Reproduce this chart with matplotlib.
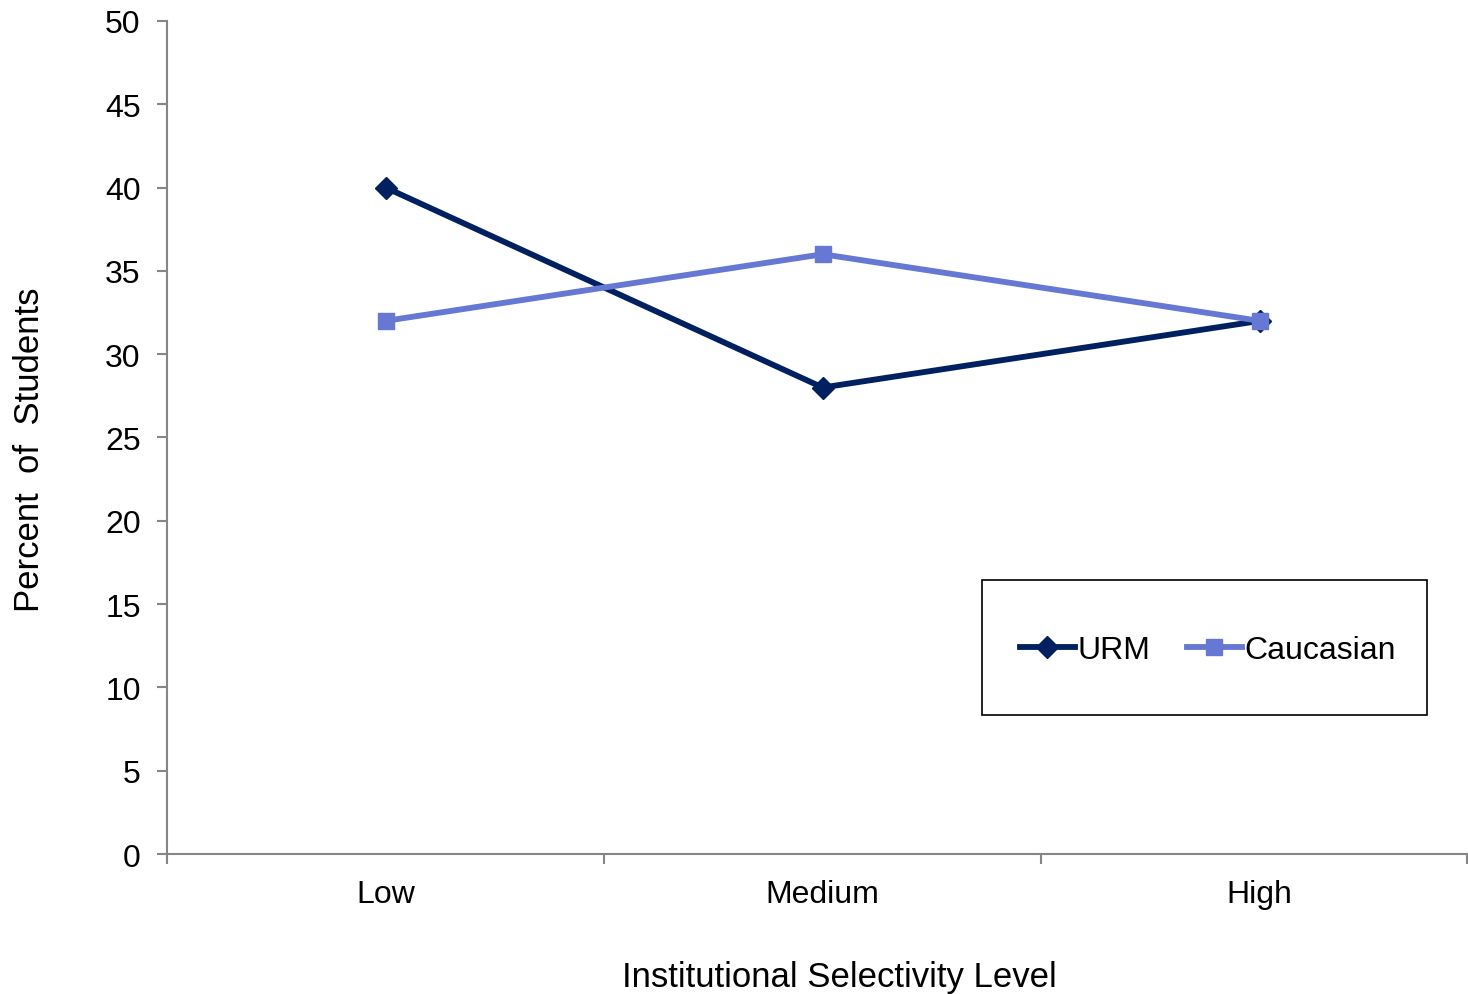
import numpy as np
import matplotlib.pyplot as plt
from matplotlib.patches import Rectangle

plt.rcParams['font.family'] = ['Liberation Sans', 'DejaVu Sans']

levels = ["Low", "Medium", "High"]
urm = [40, 28, 32]
caucasian = [32, 36, 32]

fig = plt.figure(figsize=(14.68, 9.95), dpi=100)
ax = fig.add_axes([0.1138, 0.1407, 0.8855, 0.8372])

x = np.arange(len(levels))
ax.plot(x, urm, color="#002060", lw=4.2, marker="D", ms=11, label="URM")
ax.plot(x, caucasian, color="#6677D4", lw=4.2, marker="s", ms=12, label="Caucasian")

ax.set_xlim(-0.5, 2.474)
ax.set_ylim(0, 50)
ax.set_yticks(np.arange(0, 51, 5))
ax.set_xticks(x)
ax.set_xticklabels(levels)
ax.set_xticks([-0.5, 0.5, 1.5, 2.474], minor=True)
ax.tick_params(axis="x", which="major", length=0, pad=18, labelsize=23)
ax.tick_params(axis="x", which="minor", length=7, width=1.5, color="#868686")
ax.tick_params(axis="y", length=7, width=1.5, color="#868686", labelsize=23, pad=12)

for s in ["top", "right"]:
    ax.spines[s].set_visible(False)
for s in ["left", "bottom"]:
    ax.spines[s].set_color("#868686")
    ax.spines[s].set_linewidth(1.5)

ax.set_xlabel("Institutional Selectivity Level", fontsize=25)
ax.set_ylabel("Percent  of  Students", fontsize=25)
ax.xaxis.set_label_coords(0.517, -0.127)
ax.yaxis.set_label_coords(-0.093, 0.486)

ax.add_patch(Rectangle((0.627, 0.167), 0.342, 0.162, transform=ax.transAxes,
                       fill=False, edgecolor="black", lw=1.2, clip_on=False))
ax.legend(loc="center", bbox_to_anchor=(0.801, 0.245), ncol=2, frameon=False,
          fontsize=23, handlelength=1.7, handletextpad=0.1, columnspacing=1.15)

fig.savefig("out.png", dpi=100)
